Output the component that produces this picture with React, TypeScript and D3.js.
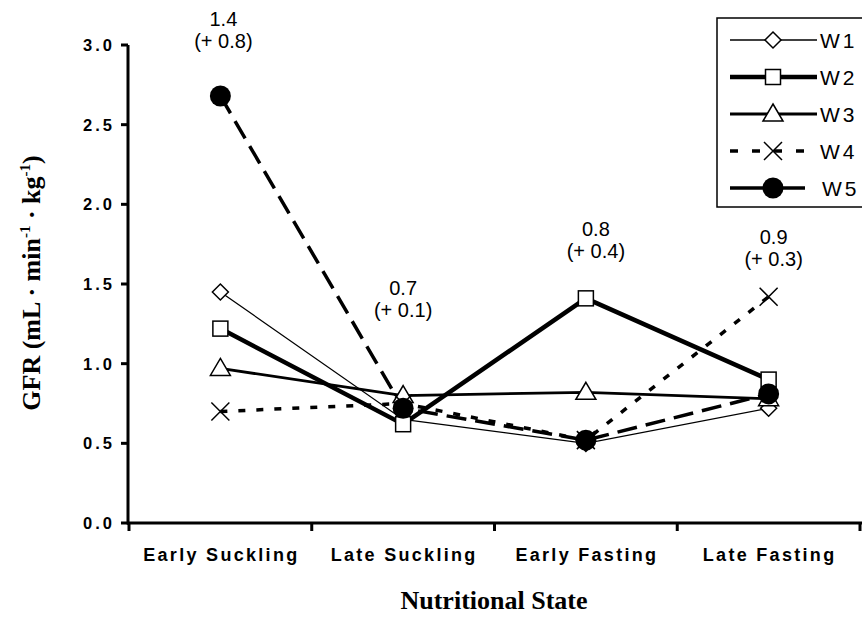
import * as d3 from "d3";

const categories = ["Early Suckling", "Late Suckling", "Early Fasting", "Late Fasting"];
const seriesNames = ["W1", "W2", "W3", "W4", "W5"];
const w1 = [1.45, 0.65, 0.5, 0.72];
const w2 = [1.22, 0.62, 1.41, 0.9];
const w3 = [0.97, 0.8, 0.82, 0.78];
const w4 = [0.7, 0.75, 0.52, 1.42];
const w5 = [2.68, 0.72, 0.52, 0.81];
const yTicks = [0, 0.5, 1.0, 1.5, 2.0, 2.5, 3.0];
const meanLabels = ["1.4", "0.7", "0.8", "0.9"];
const seLabels = ["(+ 0.8)", "(+ 0.1)", "(+ 0.4)", "(+ 0.3)"];
const annotationY = [3.12, 1.43, 1.8, 1.75];

const W = 862;
const H = 622;

type Style = { width: number; dash: string; marker: string; legendDash: string };
const styles: Style[] = [
  { width: 1.3, dash: "", marker: "diamond", legendDash: "" },
  { width: 4.5, dash: "", marker: "square", legendDash: "" },
  { width: 2.8, dash: "", marker: "triangle", legendDash: "" },
  { width: 3.5, dash: "7,11", marker: "x", legendDash: "8,14" },
  { width: 3.5, dash: "20,9", marker: "circle", legendDash: "" },
];

function Marker({ kind, x, y }: { kind: string; x: number; y: number }) {
  if (kind === "diamond")
    return <path d={`M${x},${y - 8}L${x + 8},${y}L${x},${y + 8}L${x - 8},${y}Z`} fill="#fff" stroke="#000" strokeWidth={1.5} />;
  if (kind === "square")
    return <rect x={x - 7.5} y={y - 7.5} width={15} height={15} fill="#fff" stroke="#000" strokeWidth={1.5} />;
  if (kind === "triangle")
    return <path d={`M${x},${y - 10}L${x + 10},${y + 7}L${x - 10},${y + 7}Z`} fill="#fff" stroke="#000" strokeWidth={1.5} />;
  if (kind === "x")
    return <path d={`M${x - 9},${y - 9}L${x + 9},${y + 9}M${x + 9},${y - 9}L${x - 9},${y + 9}`} stroke="#000" strokeWidth={1.5} />;
  return <circle cx={x} cy={y} r={10.5} fill="#000" />;
}

export default function App() {
  const x = d3.scaleBand<string>().domain(categories).range([129, 860]).padding(0);
  const y = d3.scaleLinear().domain([0, 3]).range([523, 45]);
  const cx = (c: string) => (x(c) as number) + x.bandwidth() / 2;
  const data = [w1, w2, w3, w4, w5];
  const line = d3
    .line<number>()
    .x((_, i) => cx(categories[i]))
    .y((d) => y(d));
  const sans = "'Liberation Sans', Arial, sans-serif";
  const serif = "'Liberation Serif', 'Times New Roman', serif";
  const boundaries = [...categories.map((c) => x(c) as number), 860];
  // annotations sit a little right of the markers in the original
  const annoShift = [3, 0, 10, 5];

  return (
    <svg width={W} height={H} style={{ position: "absolute", left: 0, top: 0, background: "#fff" }}>
      <rect width={W} height={H} fill="#fff" />
      {/* lines */}
      {data.map((vals, i) => (
        <path
          key={"l" + i}
          d={line(vals) || ""}
          fill="none"
          stroke="#000"
          strokeWidth={styles[i].width}
          strokeDasharray={styles[i].dash}
        />
      ))}
      {/* markers */}
      {data.map((vals, i) =>
        vals.map((v, j) => <Marker key={`m${i}-${j}`} kind={styles[i].marker} x={cx(categories[j])} y={y(v)} />)
      )}
      {/* y axis */}
      <line x1={128} x2={128} y1={y(3)} y2={y(0) + 1.5} stroke="#000" strokeWidth={3} />
      {yTicks.map((t) => (
        <g key={"yt" + t}>
          <line x1={121} x2={128} y1={y(t)} y2={y(t)} stroke="#000" strokeWidth={3} />
          <text x={115} y={y(t)} dy="0.36em" textAnchor="end" fontFamily={sans} fontWeight="bold" fontSize={16.5} letterSpacing={3}>
            {t.toFixed(1)}
          </text>
        </g>
      ))}
      {/* x axis */}
      <line x1={127} x2={862} y1={y(0)} y2={y(0)} stroke="#000" strokeWidth={3} />
      {boundaries.map((b, i) => (
        <line key={"xt" + i} x1={b} x2={b} y1={y(0)} y2={y(0) + 8} stroke="#000" strokeWidth={3} />
      ))}
      {categories.map((c) => (
        <text key={c} x={cx(c) + 1} y={561} textAnchor="middle" fontFamily={sans} fontWeight="bold" fontSize={18} letterSpacing={2.3}>
          {c}
        </text>
      ))}
      <text x={494} y={609} textAnchor="middle" fontFamily={serif} fontWeight="bold" fontSize={26}>
        Nutritional State
      </text>
      <text
        transform={`translate(40,283) rotate(-90)`}
        textAnchor="middle"
        fontFamily={serif}
        fontWeight="bold"
        fontSize={26}
      >
        GFR (mL · min
        <tspan dy={-10} fontSize={15}>-1</tspan>
        <tspan dy={10}> · kg</tspan>
        <tspan dy={-10} fontSize={15}>-1</tspan>
        <tspan dy={10}>)</tspan>
      </text>
      {/* annotations */}
      {categories.map((c, i) => (
        <g key={"a" + c} fontFamily={sans} fontSize={20} textAnchor="middle">
          <text x={cx(c) + annoShift[i]} y={y(annotationY[i])}>{meanLabels[i]}</text>
          <text x={cx(c) + annoShift[i]} y={y(annotationY[i]) + 22}>{seLabels[i]}</text>
        </g>
      ))}
      {/* legend */}
      <rect x={717} y={18} width={160} height={189} fill="#fff" stroke="#000" strokeWidth={1.5} />
      {seriesNames.map((n, i) => {
        const ly = 40 + i * 37;
        return (
          <g key={"lg" + n}>
            <line
              x1={730}
              x2={i === 4 ? 805 : 817}
              y1={ly}
              y2={ly}
              stroke="#000"
              strokeWidth={styles[i].width}
              strokeDasharray={styles[i].legendDash}
            />
            <Marker kind={styles[i].marker} x={773} y={ly} />
            <text x={i === 4 ? 822 : 820} y={ly} dy="0.36em" fontFamily={sans} fontSize={21} letterSpacing={3}>
              {n}
            </text>
          </g>
        );
      })}
    </svg>
  );
}
